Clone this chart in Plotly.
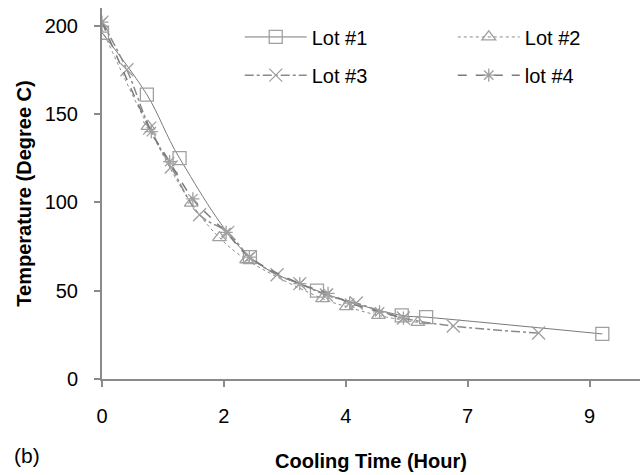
import plotly.graph_objects as go

# Data (hours, degree C)
lot1_x = [0, 0.81, 1.40, 2.67, 3.88, 5.41, 5.85, 9.03]
lot1_y = [196, 161, 125, 69, 50, 36, 35, 25.5]

lot2_x = [0, 0.83, 1.61, 2.12, 2.61, 3.98, 4.41, 4.99, 5.70]
lot2_y = [198, 143, 99.5, 80, 67.5, 45.5, 41, 36, 32]

lot3_x = [0, 0.45, 0.86, 1.25, 1.76, 2.27, 2.67, 3.16, 3.57, 4.05, 4.59, 5.44, 6.34, 7.88]
lot3_y = [202, 175, 142, 120, 93, 83, 69, 59, 54, 47.5, 43, 34.5, 30, 26]

lot4_x = [0, 0.89, 1.22, 1.64, 2.24, 2.66, 3.57, 4.08, 4.47, 5.01, 5.44]
lot4_y = [202, 140, 123, 102, 83, 69, 54, 48.5, 43, 38, 34.5]

x_tickvals = [0, 2.2, 4.4, 6.6, 8.8]
x_ticktext = ["0", "2", "4", "7", "9"]
y_tickvals = [0, 50, 100, 150, 200]

FONT = "Liberation Sans, Arial, sans-serif"
GRAY = "#8a8a8a"

fig = go.Figure()
fig.add_trace(go.Scatter(
    x=lot1_x, y=lot1_y, name="Lot #1", mode="lines+markers", showlegend=True,
    line=dict(color="#7a7a7a", width=1, shape="spline"),
    marker=dict(symbol="square-open", size=13, color="#a0a0a0", line=dict(width=1.3)),
    legend="legend"))
fig.add_trace(go.Scatter(
    x=lot2_x, y=lot2_y, name="Lot #2", mode="lines+markers", showlegend=True,
    line=dict(color="#8a8a8a", width=1, dash="dot", shape="spline"),
    marker=dict(symbol="triangle-up-open", size=12, color="#a0a0a0", line=dict(width=1.3)),
    legend="legend2"))
fig.add_trace(go.Scatter(
    x=lot3_x, y=lot3_y, name="Lot #3", mode="lines+markers", showlegend=True,
    line=dict(color="#8a8a8a", width=1.5, dash="dashdot", shape="spline"),
    marker=dict(symbol="x-thin-open", size=13, color="#a0a0a0", line=dict(width=1.3)),
    legend="legend3"))
fig.add_trace(go.Scatter(
    x=lot4_x, y=lot4_y, name="lot #4", mode="lines+markers", showlegend=True,
    line=dict(color="#7a7a7a", width=1.5, dash="dash", shape="spline"),
    marker=dict(symbol="asterisk-open", size=11, color="#a0a0a0", line=dict(width=1.3)),
    legend="legend4"))

legend_common = dict(
    orientation="v", xanchor="left", yanchor="middle",
    font=dict(family=FONT, size=20, color="#000"),
    itemwidth=62, bgcolor="rgba(0,0,0,0)",
)

col1_x, col2_x = 0.256, 0.652
row1_y, row2_y = 0.922, 0.819

fig.update_layout(
    width=640, height=475,
    showlegend=True,
    margin=dict(l=102, r=0, t=8, b=96),
    paper_bgcolor="white", plot_bgcolor="white",
    font=dict(family=FONT, size=20, color="#000"),
    legend=dict(x=col1_x, y=row1_y, **legend_common),
    legend2=dict(x=col2_x, y=row1_y, **legend_common),
    legend3=dict(x=col1_x, y=row2_y, **legend_common),
    legend4=dict(x=col2_x, y=row2_y, **legend_common),
    xaxis=dict(
        range=[0, 9.71], tickvals=x_tickvals, ticktext=x_ticktext,
        showline=True, linecolor=GRAY, linewidth=2, showgrid=False, zeroline=False,
        ticks="outside", ticklen=6, tickwidth=2, tickcolor=GRAY,
        tickfont=dict(size=20, family=FONT), ticklabelstandoff=12,
        title=dict(text="<b>Cooling Time (Hour)</b>", font=dict(size=20, family=FONT), standoff=28),
    ),
    yaxis=dict(
        range=[0, 210], tickvals=y_tickvals,
        showline=True, linecolor=GRAY, linewidth=2, showgrid=False, zeroline=False,
        ticks="outside", ticklen=6, tickwidth=2, tickcolor=GRAY,
        tickfont=dict(size=20, family=FONT), ticklabelstandoff=12,
        title=dict(text="<b>Temperature (Degree C)</b>", font=dict(size=20, family=FONT), standoff=8),
    ),
    annotations=[dict(
        text="(b)", xref="paper", yref="paper", x=-0.167, y=-0.207,
        xanchor="left", yanchor="middle", showarrow=False,
        font=dict(size=21, family=FONT, color="#000"))],
)

fig.write_html("out.html")
